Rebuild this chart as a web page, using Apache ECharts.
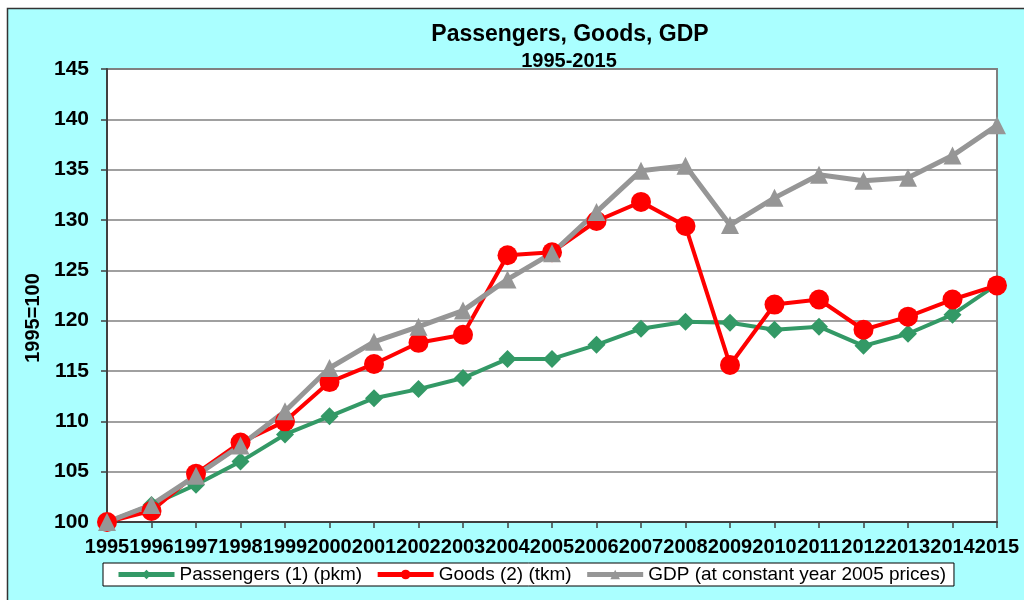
<!DOCTYPE html>
<html>
<head>
<meta charset="utf-8">
<script src="https://cdn.jsdelivr.net/npm/echarts@6/dist/echarts.min.js"></script>
<style>
html,body{margin:0;padding:0;background:#ffffff;}
#chart{width:1024px;height:600px;}
</style>
</head>
<body>
<div id="chart"></div>
<script>
const years = ['1995','1996','1997','1998','1999','2000','2001','2002','2003','2004','2005','2006','2007','2008','2009','2010','2011','2012','2013','2014','2015'];
const passengers = [100,101.7,103.7,106.0,108.7,110.5,112.3,113.2,114.3,116.2,116.2,117.6,119.2,119.9,119.8,119.1,119.4,117.5,118.7,120.6,123.6];
const goods = [100,101.1,104.8,107.9,110.0,113.9,115.7,117.8,118.6,126.5,126.8,129.9,131.8,129.4,115.6,121.6,122.1,119.1,120.4,122.1,123.5];
const gdp = [100,101.7,104.6,107.6,111.0,115.3,117.9,119.4,121.0,124.1,126.7,130.8,134.9,135.4,129.5,132.2,134.5,133.9,134.2,136.4,139.4];
const seriesNames = ['Passengers (1) (pkm)','Goods (2) (tkm)','GDP (at constant year 2005 prices)'];
const titleText = 'Passengers, Goods, GDP';
const subtitleText = '1995-2015';
const yAxisName = '1995=100';

const chart = echarts.init(document.getElementById('chart'), null, {renderer:'canvas'});
const font = 'Liberation Sans, Arial, sans-serif';
chart.setOption({
  backgroundColor: '#ffffff',
  animation: false,
  title: [
    {text: titleText, left: 570, top: 23, textAlign: 'center', padding: 0,
     textStyle: {fontFamily: font, fontWeight: 'bold', fontSize: 23, color: '#000'}},
    {text: subtitleText, left: 569, top: 51, textAlign: 'center', padding: 0,
     textStyle: {fontFamily: font, fontWeight: 'bold', fontSize: 20, color: '#000'}}
  ],
  graphic: [
    {type: 'rect', z: -100, silent: true,
     shape: {x: 7.5, y: 8.5, width: 1040, height: 620},
     style: {fill: '#aaffff', stroke: '#333333', lineWidth: 1.5}},
    {type: 'text', x: 33, y: 318, rotation: Math.PI / 2,
     style: {text: yAxisName, fontFamily: font, fontWeight: 'bold', fontSize: 20, fill: '#000',
             align: 'center', verticalAlign: 'middle'}}
  ],
  legend: {
    left: 103, top: 563,
    padding: [2, 8, 2, 13],
    itemWidth: 56, itemHeight: 12, itemGap: 13,
    lineStyle: {width: 5},
    backgroundColor: '#ffffff', borderColor: '#000000', borderWidth: 1,
    textStyle: {fontFamily: font, fontSize: 19, color: '#000'},
    data: seriesNames
  },
  grid: {
    left: 107, right: 27, top: 69, bottom: 78,
    show: true, backgroundColor: '#ffffff', borderColor: '#808080', borderWidth: 2
  },
  xAxis: {
    type: 'category', data: years, boundaryGap: false,
    axisLine: {lineStyle: {color: '#404040', width: 2}},
    axisTick: {show: true, length: 6, lineStyle: {color: '#404040', width: 1.5}},
    axisLabel: {interval: 0, margin: 15, fontFamily: font, fontWeight: 'bold', fontSize: 20, color: '#000'},
    splitLine: {show: false}
  },
  yAxis: {
    type: 'value', min: 100, max: 145, interval: 5,
    axisLine: {show: true, lineStyle: {color: '#404040', width: 2}},
    axisTick: {show: true, length: 6, lineStyle: {color: '#404040', width: 1.5}},
    axisLabel: {margin: 18, fontFamily: font, fontWeight: 'bold', fontSize: 21, color: '#000'},
    splitLine: {show: true, lineStyle: {color: '#808080', width: 1.5}}
  },
  series: [
    {name: seriesNames[0], type: 'line', data: passengers, symbol: 'diamond', symbolSize: 18,
     itemStyle: {color: '#339966'}, lineStyle: {color: '#339966', width: 4}},
    {name: seriesNames[1], type: 'line', data: goods, symbol: 'circle', symbolSize: 20,
     itemStyle: {color: '#ff0000'}, lineStyle: {color: '#ff0000', width: 4}},
    {name: seriesNames[2], type: 'line', data: gdp, symbol: 'triangle', symbolSize: 18,
     itemStyle: {color: '#969696'}, lineStyle: {color: '#969696', width: 5}}
  ]
});
</script>
</body>
</html>
